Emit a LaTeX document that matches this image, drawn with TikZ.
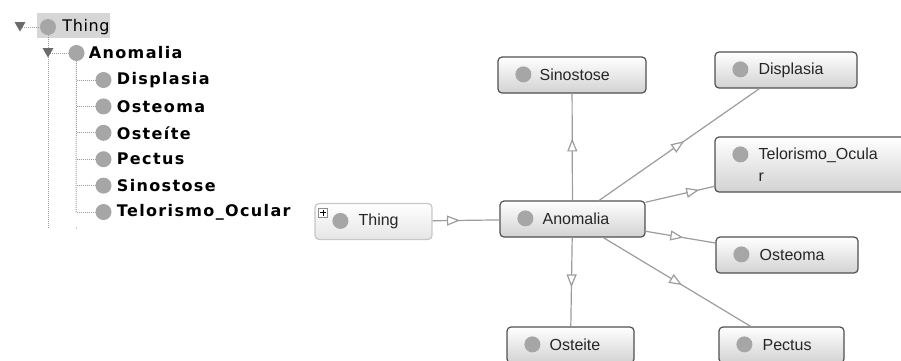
\documentclass[tikz,border=0pt]{standalone}
\usepackage{fontspec}
\setmainfont{Liberation Sans}
\newfontfamily\treefont[LetterSpace=4]{DejaVu Sans}
\newfontfamily\treebold[LetterSpace=8.5]{DejaVu Sans}
\usetikzlibrary{arrows.meta,positioning,decorations.markings}
\definecolor{edgegray}{HTML}{9C9C9C}
\definecolor{boxline}{HTML}{505050}
\definecolor{boxshade}{HTML}{D2D2D2}
\definecolor{dotgray}{HTML}{A6A6A6}
\definecolor{hilite}{HTML}{D6D6D6}
\tikzset{
  cbox/.style={draw=boxline, line width=1.2pt, rounded corners=4pt, top color=white, bottom color=boxshade, minimum height=36pt, inner sep=0pt},
  topbox/.style={cbox, draw=black!22, top color=white, bottom color=black!10},
  ctext/.style={inner sep=0pt, align=left, font=\fontsize{16}{22}\selectfont, text=black!85},
  dot/.style={fill=dotgray},
  isa/.style={draw=edgegray, line width=1.2pt, postaction={decorate, decoration={markings, mark=at position #1 with {\arrow{Triangle[length=13pt, width=10pt, fill=white, line width=1.2pt]}}}}},
  treedot/.style={circle, fill=dotgray, minimum size=16pt, inner sep=0pt},
  treetext/.style={inner sep=0pt, font=\treefont\fontsize{16}{18}\selectfont},
  treebf/.style={inner sep=0pt, font=\treebold\bfseries\fontsize{16}{18}\selectfont},
  treeline/.style={draw=edgegray, line width=1pt, dash pattern=on 1pt off 1pt},
  toggle/.style={fill=black!58}
}

\begin{document}
\begin{tikzpicture}[x=1pt, y=-1pt]
  \clip (0,0) rectangle (901,360);

  % class tree on the left
  \fill[hilite] (37,13) rectangle (110,38);
  \coordinate (tg0) at (20,27);
  \coordinate (tg1) at (48,53);
  \node[treedot] (t0) at (48,27) {};
  \node[treedot] (t1) at (76.5,53) {};
  \node[treetext, right=6pt of t0] (t0-t) {Thing};
  \node[treebf, right=4pt of t1] (t1-t) {Anomalia};
  \draw[treeline] (t0.south) -- (48,228);
  \draw[treeline] (tg0) -- (t0.west);
  \draw[treeline] (tg1) -- (t1.west);
  \draw[treeline] (t1.south) -- (76,212);
  \foreach \nm [count=\i] in {Displasia,Osteoma,Osteíte,Pectus,Sinostose,Telorismo\_Ocular} {
    \node[treedot] (c\i) at (103.5,{80+(\i-1)*26.4}) {};
    \node[treebf, right=5pt of c\i] (c\i-t) {\nm};
    \draw[treeline] (c\i.west -| t1) -- (c\i.west);
  }
  \fill[edgegray] (76.5,228) circle (0.6pt);
  \fill[toggle] (14.5,22) -- (25.5,22) -- (20,31.5) -- cycle;
  \fill[toggle] (42.5,48) -- (53.5,48) -- (48,57.5) -- cycle;

  % class graph
  \node[topbox, minimum width=117pt] (thing) at (373.5,221.5) {};
  \node[cbox, minimum width=145pt] (anom) at (572.5,219) {};
  \node[cbox, minimum width=148pt] (sino) at (572,75) {};
  \node[cbox, minimum width=142pt] (displ) at (786,70) {};
  \node[cbox, minimum width=190pt, minimum height=55pt] (telo) at (810,164.5) {};
  \node[cbox, minimum width=142pt] (osteoma) at (787,255) {};
  \node[cbox, minimum width=127pt] (osteite) at (570.5,345) {};
  \node[cbox, minimum width=125pt] (pectus) at (781.5,345) {};

  \foreach \n in {thing,anom,sino,displ,telo,osteoma,osteite,pectus}
    \fill[dot] ([xshift=26pt,yshift=-18pt]\n.north west) circle (8pt);

  \node[ctext, right=44pt of thing.west] (thing-t) {Thing};
  \node[ctext, right=43pt of anom.west] (anom-t) {Anomalia};
  \node[ctext, right=42pt of sino.west] (sino-t) {Sinostose};
  \node[ctext, right=44pt of displ.west] (displ-t) {Displasia};
  \node[ctext, right=44pt of telo.west] (telo-t) {Telorismo\_Ocula\\r};
  \node[ctext, right=44pt of osteoma.west] (osteoma-t) {Osteoma};
  \node[ctext, right=43pt of osteite.west] (osteite-t) {Osteite};
  \node[ctext, right=44pt of pectus.west] (pectus-t) {Pectus};

  % expand marker on Thing
  \node[draw=black!45, fill=white, minimum size=9pt, inner sep=0pt] (plus) at (323,212.5) {};
  \draw[black, line width=1pt] ([xshift=-3pt]plus.center) -- ([xshift=3pt]plus.center)
    ([yshift=-3pt]plus.center) -- ([yshift=3pt]plus.center);

  \draw[isa=0.41] (thing) -- (anom);
  \draw[isa=0.58] (anom) -- (sino);
  \draw[isa=0.53] (anom) -- (displ);
  \draw[isa=0.78] (anom) -- (telo);
  \draw[isa=0.54] (anom) -- (osteoma);
  \draw[isa=0.56] (anom) -- (osteite);
  \draw[isa=0.535] (anom) -- (pectus);
\end{tikzpicture}
\end{document}
